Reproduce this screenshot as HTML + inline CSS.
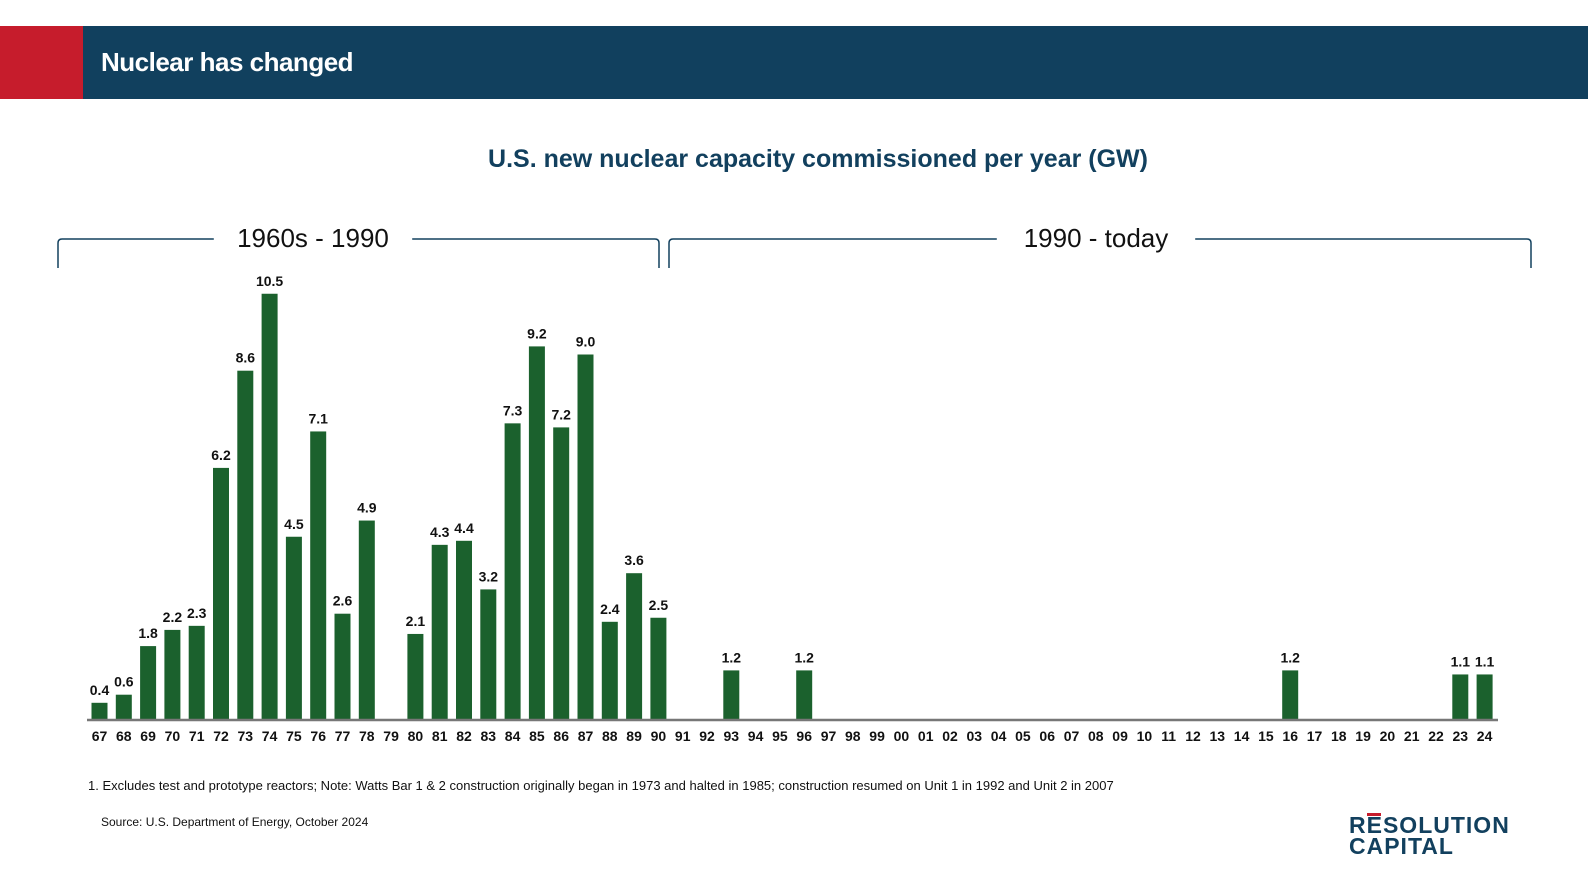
<!DOCTYPE html>
<html><head><meta charset="utf-8"><style>
body{margin:0;width:1588px;height:892px;background:#fff;font-family:"Liberation Sans",sans-serif;overflow:hidden;position:relative}
.abs{position:absolute}
</style></head><body>
<div class="abs" style="left:0;top:26px;width:1588px;height:73px;background:#11405e"></div>
<div class="abs" style="left:0;top:26px;width:83px;height:73px;background:#c61c2c"></div>
<div class="abs" style="left:101px;top:26px;height:73px;line-height:73px;color:#fff;font-weight:bold;font-size:26px;letter-spacing:-0.5px">Nuclear has changed</div>
<div class="abs" style="left:0;width:1636px;top:145px;text-align:center;color:#12405e;font-weight:bold;font-size:25px">U.S. new nuclear capacity commissioned per year (GW)</div>
<svg class="abs" style="left:0;top:0" width="1588" height="892">
<g id="br" fill="none" stroke="#12405e" stroke-width="1.5"></g>
<g id="bars"></g><g id="labels"></g>
</svg>
<div class="abs" style="left:88px;top:778px;font-size:13px;color:#111">1. Excludes test and prototype reactors; Note: Watts Bar 1 &amp; 2 construction originally began in 1973 and halted in 1985; construction resumed on Unit 1 in 1992 and Unit 2 in 2007</div>
<div class="abs" style="left:101px;top:815px;font-size:12px;color:#111">Source: U.S. Department of Energy, October 2024</div>
<div class="abs" style="left:1349px;top:815px;font-size:23px;line-height:21px;font-weight:bold;color:#12405e;letter-spacing:1px">R<span style="position:relative">E<span style="position:absolute;left:0;top:1px;width:14px;height:3px;background:#c61c2c"></span></span>SOLUTION<br>CAPITAL</div>
<script>
const years=["67","68","69","70","71","72","73","74","75","76","77","78","79","80","81","82","83","84","85","86","87","88","89","90","91","92","93","94","95","96","97","98","99","00","01","02","03","04","05","06","07","08","09","10","11","12","13","14","15","16","17","18","19","20","21","22","23","24"];
const values=[0.4,0.6,1.8,2.2,2.3,6.2,8.6,10.5,4.5,7.1,2.6,4.9,0,2.1,4.3,4.4,3.2,7.3,9.2,7.2,9.0,2.4,3.6,2.5,0,0,1.2,0,0,1.2,0,0,0,0,0,0,0,0,0,0,0,0,0,0,0,0,0,0,0,1.2,0,0,0,0,0,0,1.1,1.1];
const NS="http://www.w3.org/2000/svg";
const base=719,pxPer=40.5,x0=99.5,step=24.3,bw=16;
const xs=i=>x0+i*step, ys=v=>base-v*pxPer;
function mk(t,a,p){const e=document.createElementNS(NS,t);for(const k in a)e.setAttribute(k,a[k]);p.appendChild(e);return e;}
const bars=document.getElementById('bars'),labels=document.getElementById('labels');
values.forEach((v,i)=>{
 if(v>0){
  const r=mk('rect',{x:xs(i)-bw/2,y:ys(v),width:bw,height:v*pxPer,fill:'#1b612d'},bars);
  
  
  const t=mk('text',{x:xs(i),y:ys(v)-8,'text-anchor':'middle','font-size':'14','font-weight':'bold',fill:'#111'},labels);
  t.textContent=v.toFixed(1);
  
  
 }
 const l=mk('text',{x:xs(i),y:741,'text-anchor':'middle','font-size':'14','font-weight':'bold',fill:'#111'},labels);
 l.textContent=years[i];
 
 
});
const ax=mk('line',{x1:87,x2:1498,y1:base+1,y2:base+1,stroke:'#777','stroke-width':2.5},labels);


const br=document.getElementById('br');
const brackets=[{a:58,b:659,tc:313,txt:"1960s - 1990"},{a:669,b:1531,tc:1096,txt:"1990 - today"}];
brackets.forEach((o,k)=>{
 const w=o.txt.length*6.6+20;
 const p=mk('path',{d:`M${o.a},268 L${o.a},243 Q${o.a},239 ${o.a+4},239 L${o.tc-w},239 M${o.tc+w},239 L${o.b-4},239 Q${o.b},239 ${o.b},243 L${o.b},268`},br);
 
 
 const t=mk('text',{x:o.tc,y:247,'text-anchor':'middle','font-size':'26',fill:'#111',stroke:'none'},labels);
 t.textContent=o.txt;
 
 
});
</script>
</body></html>
